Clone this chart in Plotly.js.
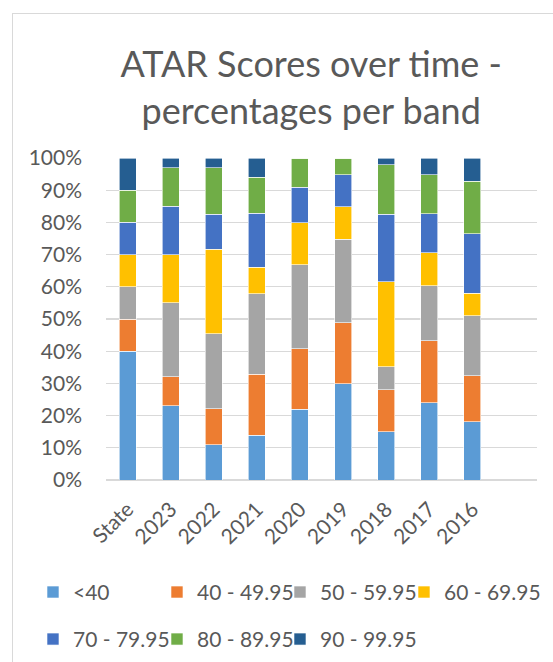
<!DOCTYPE html>
<html>
<head>
<meta charset="utf-8">
<script src="https://cdn.plot.ly/plotly-3.0.1.min.js"></script>
<style>
html,body{margin:0;padding:0;background:#fff;overflow:hidden;}
#frame{position:absolute;left:12px;top:13px;width:600px;height:700px;border:1px solid #d9d9d9;box-sizing:border-box;pointer-events:none;z-index:5;}
#chart{position:absolute;left:0;top:0;width:553px;height:662px;}
</style>
</head>
<body>
<div id="chart"></div>
<div id="frame"></div>
<script>
const categories = ["State","2023","2022","2021","2020","2019","2018","2017","2016"];
const bandNames = ["<40","40 - 49.95","50 - 59.95","60 - 69.95","70 - 79.95","80 - 89.95","90 - 99.95"];
const bandColors = ["#5b9bd5","#ed7d31","#a5a5a5","#ffc000","#4472c4","#70ad47","#255e91"];

const below40   = [40, 23, 11, 13.9, 21.9, 29.9, 15.0, 24.0, 18.1];
const band40_50 = [10,  9, 11.1, 18.9, 18.8, 18.9, 13.1, 19.2, 14.3];
const band50_60 = [10, 23, 23.3, 25.0, 26.1, 26.0,  7.1, 17.2, 18.6];
const band60_70 = [10, 15, 26.2,  8.2, 13.1, 10.0, 26.3, 10.1,  7.0];
const band70_80 = [10, 15, 11.0, 16.9, 11.0, 10.0, 21.1, 12.2, 18.5];
const band80_90 = [10, 12, 14.3, 11.1,  9.1,  5.2, 15.3, 12.1, 16.3];
const band90_100= [10,  3,  3.1,  6.0,  0.0,  0.0,  2.1,  5.2,  7.2];

const yTickVals = [0,10,20,30,40,50,60,70,80,90,100];
const yTickText = ["0%","10%","20%","30%","40%","50%","60%","70%","80%","90%","100%"];

const series = [below40, band40_50, band50_60, band60_70, band70_80, band80_90, band90_100];
const FONT = "Lato, 'Open Sans', sans-serif";

// one legend per band so the entries sit in the reference's grid
const legendX = [-0.1694, 0.1183, 0.4037, 0.6914, -0.1694, 0.1183, 0.4037];
const legendY = [-0.349, -0.349, -0.349, -0.349, -0.495, -0.495, -0.495];
const legendIds = ["legend","legend2","legend3","legend4","legend5","legend6","legend7"];

const traces = series.map((vals, i) => ({
  type: "bar",
  name: bandNames[i],
  x: categories,
  y: vals,
  width: 0.395,
  marker: {color: bandColors[i], line: {color: "#ffffff", width: 0.6}},
  legend: legendIds[i],
  hoverinfo: "x+y+name"
}));

const layout = {
  width: 553,
  height: 662,
  margin: {l: 106, r: 16, t: 158, b: 182, autoexpand: false},
  paper_bgcolor: "#ffffff",
  plot_bgcolor: "#ffffff",
  barmode: "stack",
  font: {family: FONT, color: "#595959"},
  title: {
    text: "ATAR Scores over time -<br>percentages per band",
    font: {family: FONT, size: 36, color: "#595959"},
    x: 0.476, xanchor: "center",
    y: 0.883, yanchor: "middle",
    xref: "paper", yref: "container"
  },
  xaxis: {
    type: "category",
    range: [-0.5, 9.5],
    tickangle: -45,
    tickfont: {family: FONT, size: 21, color: "#595959"},
    showgrid: false,
    showline: false,
    zeroline: false,
    ticks: "",
    ticklabelstandoff: 12,
    automargin: false,
    fixedrange: true
  },
  yaxis: {
    range: [0, 100],
    tickvals: yTickVals,
    ticktext: yTickText,
    tickfont: {family: FONT, size: 21, color: "#595959"},
    showgrid: true,
    gridcolor: "#d9d9d9",
    gridwidth: 1.3,
    zeroline: true,
    zerolinecolor: "#d9d9d9",
    zerolinewidth: 1.3,
    showline: false,
    ticks: "",
    ticklabelstandoff: 23,
    automargin: false,
    fixedrange: true
  },
  showlegend: true
};

legendIds.forEach((id, i) => {
  layout[id] = {
    orientation: "h",
    xanchor: "left",
    yanchor: "middle",
    x: legendX[i],
    y: legendY[i],
    font: {family: FONT, size: 21, color: "#595959"},
    bgcolor: "rgba(0,0,0,0)"
  };
});

Plotly.newPlot("chart", traces, layout, {displayModeBar: false, staticPlot: true});
</script>
</body>
</html>
